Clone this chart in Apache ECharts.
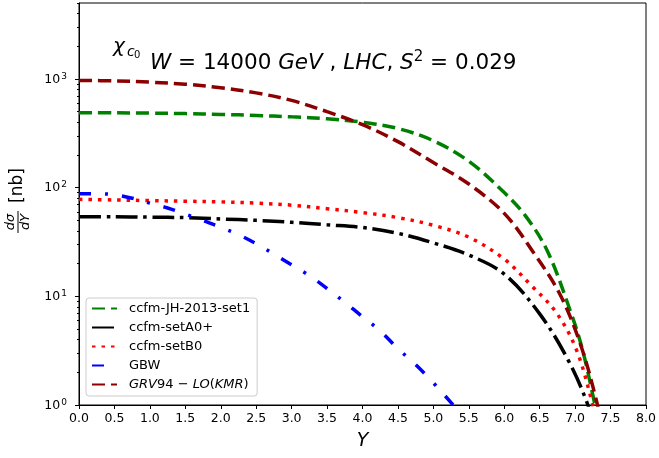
<!DOCTYPE html>
<html><head><meta charset="utf-8">
<script src="https://cdn.jsdelivr.net/npm/echarts@6/dist/echarts.min.js"></script>
<style>html,body{margin:0;padding:0;background:#fff}#c{width:659px;height:458px}</style>
</head><body><div id="c"></div>
<script>
// ---- data ----
const seriesNames = ['ccfm-JH-2013-set1', 'ccfm-setA0+', 'ccfm-setB0', 'GBW', 'GRV94-LO(KMR)'];
const jhX = [0,0.5,1,1.5,2,2.5,3,3.5,4,4.5,5,5.5,6,6.3,6.61,6.93,7.1,7.28,7.36];
const jhV = [490,488,485,480,472,462,448,430,400,350,270,175,90,55,26,7.4,3.3,1.0,0.55];
const a0X = [0,0.5,1,1.5,2,2.5,3,3.5,4,4.5,5,5.5,6,6.5,6.9,7.18,7.26];
const a0V = [54,54,53.5,53,51.5,50,48,45.5,43,38,31,24,16,6.9,2.6,1.0,0.6];
const b0X = [0,0.5,1,1.5,2,2.5,3,3.5,4,4.5,5,5.5,6,6.36,6.74,7.02,7.25,7.34];
const b0V = [78,77,76,75,74,72,69,64,59,53,45,35,22,13,7,3.2,1.0,0.55];
const gbwX = [0,0.25,0.5,0.75,1,1.25,1.5,1.75,2,2.25,2.5,2.75,3,3.25,3.5,3.75,4,4.25,4.5,4.75,5,5.25,5.5];
const gbwV = [88,88,86,80,72,65,57,50,43,37,30.5,24.5,19.5,15.5,11.8,8.8,6.5,4.8,3.3,2.35,1.6,1.05,0.68];
const grvX = [0,0.5,1,1.5,2,2.5,3,3.5,4,4.5,5,5.5,6,6.4,6.78,7.07,7.3,7.4];
const grvV = [970,960,935,895,830,745,635,500,380,265,170,108,58,26,10.6,3.7,1.1,0.5];
const yMin = 1, yMax = 5000;
const xMin = 0, xMax = 8, xStep = 0.5;
const majorExp = [0, 1, 2, 3];

// ---- helpers ----
const FONT = 'DejaVu Sans';
const pairs = (xs, vs) => xs.map((x, i) => [x, vs[i]]);
const LOGMAX = Math.log10(yMax);
const minorVals = [];
majorExp.forEach(n => { for (let k = 2; k <= 9; k++) { const v = n + Math.log10(k); if (v <= LOGMAX) minorVals.push(v); } });

const styles = [
  {color: '#008000', type: [13, 6]},
  {color: '#000000', type: [22, 5.6, 3.5, 5.6]},
  {color: '#ff0000', type: [3.5, 6]},
  {color: '#0000ff', type: [12, 14, 3, 14]},
  {color: '#8b0000', type: [13, 6]}
];
const datasets = [pairs(jhX, jhV), pairs(a0X, a0V), pairs(b0X, b0V), pairs(gbwX, gbwV), pairs(grvX, grvV)];

const chart = echarts.init(document.getElementById('c'), null, {renderer: 'canvas'});
const grid = {left: 79, right: 13, top: 3, bottom: 53, show: true, borderColor: '#000', borderWidth: 1, backgroundColor: 'transparent'};

chart.setOption({
  animation: false,
  backgroundColor: '#fff',
  grid: grid,
  xAxis: {
    type: 'value', min: xMin, max: xMax, interval: xStep,
    axisLine: {show: true, lineStyle: {color: '#000', width: 1}},
    axisTick: {show: true, inside: false, length: 4, lineStyle: {color: '#000'}},
    axisLabel: {margin: 7, color: '#000', fontFamily: FONT, fontSize: 12.5, formatter: v => v.toFixed(1)},
    splitLine: {show: false},
    name: 'Y', nameLocation: 'middle', nameGap: 27,
    nameTextStyle: {fontFamily: FONT, fontStyle: 'italic', fontSize: 19, color: '#000'}
  },
  yAxis: [
    {type: 'log', logBase: 10, min: yMin, max: yMax, position: 'left',
     axisLine: {show: false}, axisTick: {show: false}, axisLabel: {show: false}, splitLine: {show: false}},
    {type: 'value', min: 0, max: LOGMAX, position: 'left',
     axisLine: {show: true, lineStyle: {color: '#000'}},
     axisTick: {show: true, length: 4, customValues: majorExp, lineStyle: {color: '#000'}},
     axisLabel: {show: true, margin: 12, customValues: majorExp, color: '#000',
       formatter: v => '{b|10}{s|' + v + '}',
       rich: {b: {fontFamily: FONT, fontSize: 12.5, color: '#000', lineHeight: 14, verticalAlign: 'bottom'},
              s: {fontFamily: FONT, fontSize: 9, color: '#000', lineHeight: 14, verticalAlign: 'top', padding: [0, 0, 0, 1]}}},
     splitLine: {show: false}},
    {type: 'value', min: 0, max: LOGMAX, position: 'left',
     axisLine: {show: false},
     axisTick: {show: true, length: 2, customValues: minorVals, lineStyle: {color: '#000'}},
     axisLabel: {show: false}, splitLine: {show: false}}
  ],
  legend: {
    orient: 'vertical', left: 86, top: 298,
    padding: [4, 7, 5, 5], itemWidth: 25, itemHeight: 14, itemGap: 6,
    backgroundColor: 'rgba(255,255,255,0.8)', borderColor: '#cccccc', borderWidth: 1, borderRadius: 3,
    itemStyle: {opacity: 0, borderWidth: 0},
    data: seriesNames,
    textStyle: {fontFamily: FONT, fontSize: 13, color: '#000', padding: [0, 0, 0, 7],
      rich: {i: {fontFamily: FONT, fontSize: 13, fontStyle: 'italic', color: '#000'},
             r: {fontFamily: FONT, fontSize: 13, color: '#000'}}},
    formatter: n => n.startsWith('GRV') ? '{i|GRV}{r|94 − }{i|LO}{r|(}{i|KMR}{r|)}' : n
  },
  series: datasets.map((d, i) => ({
    name: seriesNames[i], type: 'line', xAxisIndex: 0, yAxisIndex: 0,
    data: d, showSymbol: false, symbol: 'none', smooth: 0.35, clip: true,
    lineStyle: {color: styles[i].color, width: 3.5, type: styles[i].type, cap: 'butt'},
    itemStyle: {color: styles[i].color},
    z: 2 + i
  })),
  graphic: [
    {type: 'text', x: 113, y: 47, style: {text: 'χ', font: 'italic 20px "DejaVu Sans"', fill: '#000', verticalAlign: 'middle'}},
    {type: 'text', x: 127, y: 52, style: {text: 'c', font: 'italic 14px "DejaVu Sans"', fill: '#000', verticalAlign: 'middle'}},
    {type: 'text', x: 134, y: 55, style: {text: '0', font: '10px "DejaVu Sans"', fill: '#000', verticalAlign: 'middle'}},
    {type: 'text', x: 150, y: 62, style: {
      text: '{i|W}{r| = 14000 }{i|GeV}{r| , }{i|LHC}{r|, }{i|S}{s|2}{r| = 0.029}',
      verticalAlign: 'middle',
      rich: {i: {font: 'italic 21.5px "DejaVu Sans"', fill: '#000', verticalAlign: 'bottom', lineHeight: 24},
             r: {font: '21.5px "DejaVu Sans"', fill: '#000', verticalAlign: 'bottom', lineHeight: 24},
             s: {font: '15px "DejaVu Sans"', fill: '#000', verticalAlign: 'top', lineHeight: 24}}
    }},
    {type: 'group', x: 18, y: 204, rotation: Math.PI / 2, children: [
      {type: 'text', x: 18.5, y: 0, style: {text: '[nb]', font: '17px "DejaVu Sans"', fill: '#000', align: 'center', verticalAlign: 'middle'}},
      {type: 'text', x: -18, y: -1, style: {text: 'dσ', font: 'italic 13px "DejaVu Sans"', fill: '#000', align: 'center', verticalAlign: 'bottom'}},
      {type: 'line', shape: {x1: -29, y1: 0, x2: -7, y2: 0}, style: {stroke: '#000', lineWidth: 1}},
      {type: 'text', x: -18, y: 1, style: {text: 'dY', font: 'italic 13px "DejaVu Sans"', fill: '#000', align: 'center', verticalAlign: 'top'}}
    ]}
  ]
});
</script></body></html>
